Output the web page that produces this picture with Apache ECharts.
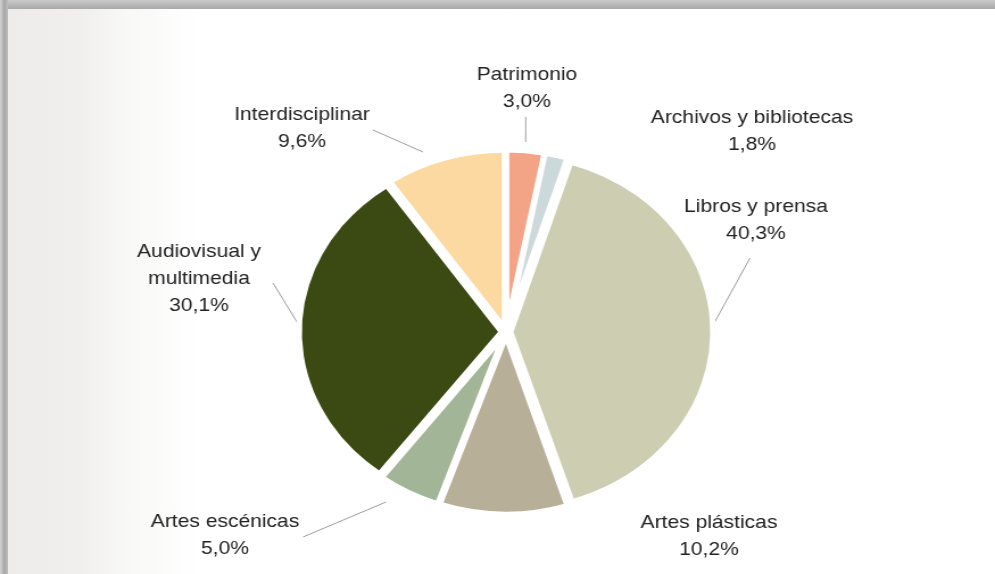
<!DOCTYPE html>
<html><head><meta charset="utf-8">
<script src="https://cdn.jsdelivr.net/npm/echarts@6/dist/echarts.min.js"></script>
<style>
html,body{margin:0;padding:0;width:995px;height:574px;overflow:hidden;background:#fff;}
#frameTop{position:absolute;left:0;top:0;width:995px;height:9px;background:linear-gradient(#cacaca,#a9a9a9);}
#frameLeft{position:absolute;left:0;top:0;width:8px;height:574px;background:linear-gradient(to right,#d2d2d2,#a8a8a8 55%,#bdbdbd);}
#panel{position:absolute;left:8px;top:9px;width:987px;height:565px;background:linear-gradient(to right,#edecea 0px,#f0efee 70px,#f8f8f7 120px,#ffffff 190px);}
#chart{position:absolute;left:0;top:0;width:875px;height:574px;transform:scaleX(1.137143);transform-origin:0 0;}
</style></head>
<body>
<div id="frameTop"></div><div id="frameLeft"></div><div id="panel"></div>
<div id="chart"></div>
<script>
const categories = ['Patrimonio', 'Archivos y bibliotecas', 'Libros y prensa', 'Artes plásticas', 'Artes escénicas', 'Audiovisual y\nmultimedia', 'Interdisciplinar'];
const shares = [3.0, 1.8, 40.3, 10.2, 5.0, 30.1, 9.6];
const colors = ['#F3A386', '#CCD9DA', '#CDCDB1', '#B8AF99', '#A2B597', '#3B4A12', '#FCD9A1'];

// layout (screen px) for labels and their leader lines
const SX = 995 / 875;
const labelPos = [[527, 88], [752, 131], [756, 220], [709, 536], [225, 535], [199, 279], [302, 128]];
const leader = [[[525.7, 117], [525.7, 142]], null, [[750, 258], [712, 327]], null, [[303, 537], [386, 502]], [[273, 283], [300, 327]], [[373, 130], [423, 152]]];

const center = [445, 332];
const radius = 178;

const chart = echarts.init(document.getElementById('chart'), null, {renderer: 'canvas'});

const sliceData = categories.map((n, i) => ({
  name: n, value: shares[i], selected: true,
  itemStyle: {color: colors[i]}
}));
const labelData = categories.map((n, i) => ({
  name: n, value: shares[i],
  labelLine: {show: !!leader[i]}
}));

chart.setOption({
  animation: false,
  backgroundColor: 'transparent',
  series: [
    {
      type: 'pie',
      center: center,
      radius: radius,
      startAngle: 90,
      clockwise: true,
      selectedMode: 'multiple',
      selectedOffset: 4,
      silent: true,
      emphasis: {disabled: true},
      itemStyle: {borderColor: '#ffffff', borderWidth: 5},
      select: {itemStyle: {borderColor: '#ffffff', borderWidth: 5}},
      label: {show: false},
      labelLine: {show: false},
      data: sliceData
    },
    {
      type: 'pie',
      center: center,
      radius: radius,
      startAngle: 90,
      clockwise: true,
      silent: true,
      avoidLabelOverlap: false,
      emphasis: {disabled: true},
      itemStyle: {color: 'rgba(0,0,0,0)', borderWidth: 0},
      label: {
        show: true,
        position: 'outside',
        color: '#222222',
        fontFamily: 'Liberation Sans, Arial, sans-serif',
        fontSize: 18.5,
        lineHeight: 27,
        align: 'center',
        formatter: p => p.name + '\n' + p.value.toFixed(1).replace('.', ',') + '%'
      },
      labelLine: {show: true, lineStyle: {color: '#9c9c9c', width: 1}},
      labelLayout: function (params) {
        const i = params.dataIndex;
        const p = labelPos[i];
        const res = {x: p[0] / SX, y: p[1], align: 'center', verticalAlign: 'middle'};
        const l = leader[i];
        if (l) {
          const a = [l[0][0] / SX, l[0][1]];
          const b = [l[1][0] / SX, l[1][1]];
          res.labelLinePoints = [a, [(a[0] + b[0]) / 2, (a[1] + b[1]) / 2], b];
        }
        return res;
      },
      data: labelData
    }
  ]
});
</script>
</body></html>
